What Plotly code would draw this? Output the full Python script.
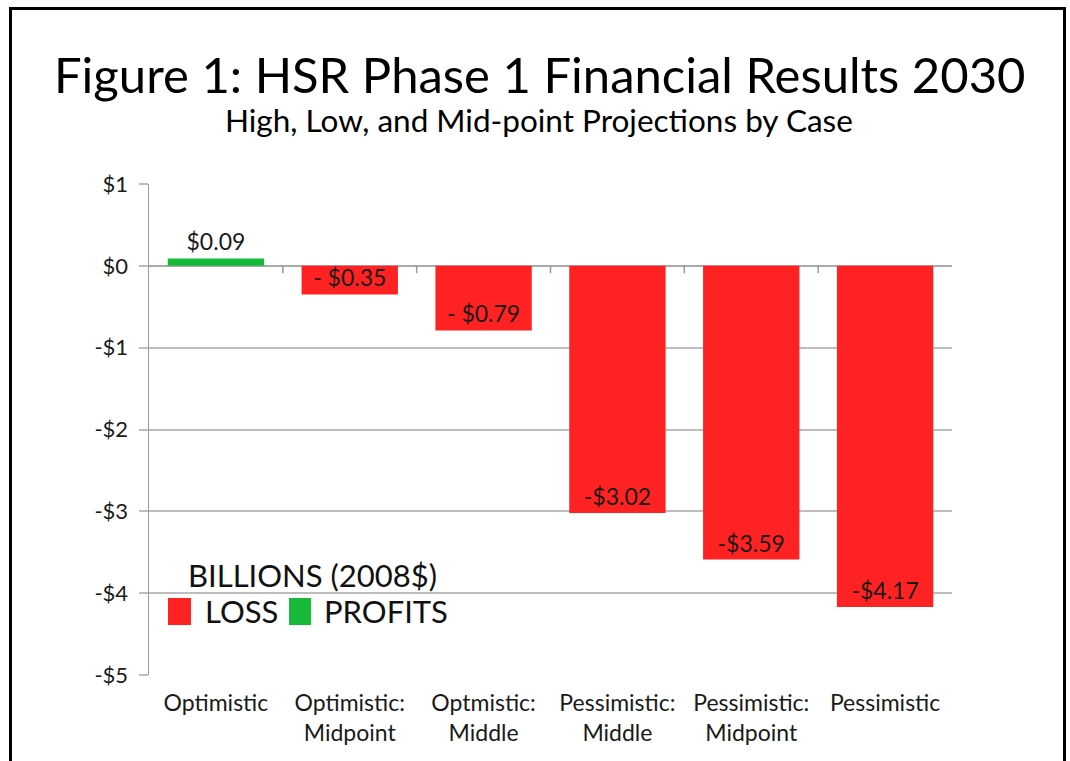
import plotly.graph_objects as go

categories = ["Optimistic", "Optimistic:<br>Midpoint", "Optmistic:<br>Middle",
              "Pessimistic:<br>Middle", "Pessimistic:<br>Midpoint", "Pessimistic"]
values = [0.09, -0.35, -0.79, -3.02, -3.59, -4.17]
value_labels = ["$0.09", "- $0.35", "- $0.79", "-$3.02", "-$3.59", "-$4.17"]
tick_vals = [1, 0, -1, -2, -3, -4, -5]
tick_text = ["$1", "$0", "-$1", "-$2", "-$3", "-$4", "-$5"]

RED = "#FF2222"
GREEN = "#17B93A"
FONT = "Lato"
TXT = "#1a1a1a"
colors = [GREEN if v > 0 else RED for v in values]

W, H = 1070, 761
ML, MR, MT, MB = 149, 118, 184, 86


def px_x(px):
    return (px - ML) / (W - ML - MR)


def px_y(py):
    return (H - MB - py) / (H - MT - MB)


fig = go.Figure()
fig.add_trace(go.Bar(
    x=list(range(len(categories))), y=values,
    marker=dict(color=colors, line=dict(width=0)),
    text=value_labels,
    textposition=["outside"] + ["inside"] * 5,
    insidetextanchor="end",
    textfont=dict(family=FONT, size=23, color=TXT),
    cliponaxis=False,
    showlegend=False,
    hoverinfo="skip",
))

shapes = []
# category boundary tick marks on the zero line
for i in range(len(categories) - 1):
    shapes.append(dict(type="line", xref="x", yref="y", x0=i + 0.5, x1=i + 0.5,
                       y0=0, y1=-0.09, line=dict(color="#999999", width=1.5)))
# frame
shapes += [
    dict(type="line", xref="paper", yref="paper", x0=px_x(10.5), x1=px_x(10.5), y0=px_y(7), y1=px_y(800),
         line=dict(color="black", width=3)),
    dict(type="line", xref="paper", yref="paper", x0=px_x(1064.5), x1=px_x(1064.5), y0=px_y(7), y1=px_y(800),
         line=dict(color="black", width=3)),
    dict(type="line", xref="paper", yref="paper", x0=px_x(9), x1=px_x(1066), y0=px_y(8.5), y1=px_y(8.5),
         line=dict(color="black", width=3)),
]
# legend swatches
shapes += [
    dict(type="rect", xref="paper", yref="paper", x0=px_x(168), x1=px_x(191), y0=px_y(625), y1=px_y(598),
         fillcolor=RED, line=dict(width=0)),
    dict(type="rect", xref="paper", yref="paper", x0=px_x(289), x1=px_x(311), y0=px_y(625), y1=px_y(598),
         fillcolor=GREEN, line=dict(width=0)),
]

annotations = [
    dict(text="Figure 1: HSR Phase 1 Financial Results 2030", xref="paper", yref="paper",
         x=px_x(540), y=px_y(74), xanchor="center", yanchor="middle", showarrow=False,
         font=dict(family=FONT, size=49, color="black")),
    dict(text="High, Low, and Mid-point Projections by Case", xref="paper", yref="paper",
         x=px_x(539), y=px_y(120), xanchor="center", yanchor="middle", showarrow=False,
         font=dict(family=FONT, size=31.5, color="black")),
    dict(text="BILLIONS (2008$)", xref="paper", yref="paper",
         x=px_x(186), y=px_y(575), xanchor="left", yanchor="middle", showarrow=False,
         font=dict(family=FONT, size=31, color="#111111")),
    dict(text="LOSS", xref="paper", yref="paper",
         x=px_x(203), y=px_y(611), xanchor="left", yanchor="middle", showarrow=False,
         font=dict(family=FONT, size=31, color="#111111")),
    dict(text="PROFITS", xref="paper", yref="paper",
         x=px_x(322), y=px_y(611), xanchor="left", yanchor="middle", showarrow=False,
         font=dict(family=FONT, size=31, color="#111111")),
]

fig.update_layout(
    width=W, height=H,
    margin=dict(l=ML, r=MR, t=MT, b=MB),
    paper_bgcolor="white", plot_bgcolor="white",
    bargap=0.28,
    uniformtext=dict(minsize=22, mode="show"),
    shapes=shapes,
    annotations=annotations,
    hovermode=False,
    xaxis=dict(tickmode="array", tickvals=list(range(len(categories))), ticktext=categories,
               range=[-0.5, len(categories) - 0.5], showgrid=False, zeroline=False,
               showline=False, ticks="", ticklabelstandoff=12,
               tickfont=dict(family=FONT, size=23, color=TXT)),
    yaxis=dict(range=[-5, 1], tickmode="array", tickvals=tick_vals, ticktext=tick_text,
               showgrid=True, gridcolor="#BDBDBD", gridwidth=2,
               zeroline=True, zerolinecolor="#AAAAAA", zerolinewidth=2,
               showline=True, linecolor="#9A9A9A", linewidth=1.5,
               ticks="outside", ticklen=9, tickcolor="#BDBDBD", tickwidth=2,
               ticklabelstandoff=6,
               tickfont=dict(family=FONT, size=22, color=TXT)),
    font=dict(family=FONT),
)

fig.write_html("out.html", config={"displayModeBar": False, "staticPlot": True},
               post_script="document.body.style.margin='0';document.body.style.overflow='hidden';")
